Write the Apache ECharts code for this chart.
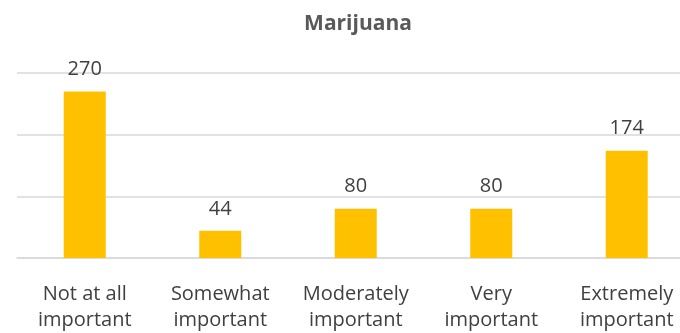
<!DOCTYPE html>
<html>
<head>
<meta charset="utf-8">
<script src="https://cdn.jsdelivr.net/npm/echarts@6/dist/echarts.min.js"></script>
<style>
  html, body { margin: 0; padding: 0; background: #fff; overflow: hidden; }
  #chart { width: 696px; height: 333px; }
</style>
</head>
<body>
<div id="chart"></div>
<script>
// Importance ratings for marijuana: number of respondents per category
const categories = ['Not at all\nimportant', 'Somewhat\nimportant', 'Moderately\nimportant', 'Very\nimportant', 'Extremely\nimportant'];
const counts = [270, 44, 80, 80, 174];
const yTicks = [0, 100, 200, 300];

const FONT = '"Open Sans", "Liberation Sans", sans-serif';
const chart = echarts.init(document.getElementById('chart'), null, { renderer: 'canvas' });

chart.setOption({
  animation: false,
  title: {
    text: 'Marijuana',
    left: 353,
    textAlign: 'center',
    top: 9,
    textStyle: { fontFamily: FONT, fontSize: 21, fontWeight: 'bold', color: '#595959' }
  },
  grid: { left: 17, top: 73, width: 677.5, height: 186.5, containLabel: false },
  xAxis: {
    type: 'category',
    data: categories,
    axisLine: { show: true, lineStyle: { color: '#d9d9d9', width: 1.5 } },
    axisTick: { show: false },
    axisLabel: {
      fontFamily: FONT, fontSize: 20, color: '#404040',
      lineHeight: 26, margin: 23, interval: 0
    }
  },
  yAxis: {
    type: 'value',
    min: yTicks[0],
    max: yTicks[yTicks.length - 1],
    interval: 100,
    axisLabel: { show: false },
    axisLine: { show: false },
    axisTick: { show: false },
    splitLine: { lineStyle: { color: '#d9d9d9', width: 1.5 } }
  },
  series: [{
    type: 'bar',
    data: counts,
    barWidth: 42,
    itemStyle: { color: '#FFC000' },
    label: {
      show: true,
      position: 'top',
      distance: 12,
      fontFamily: FONT,
      fontSize: 20,
      color: '#404040'
    }
  }]
});
</script>
</body>
</html>
